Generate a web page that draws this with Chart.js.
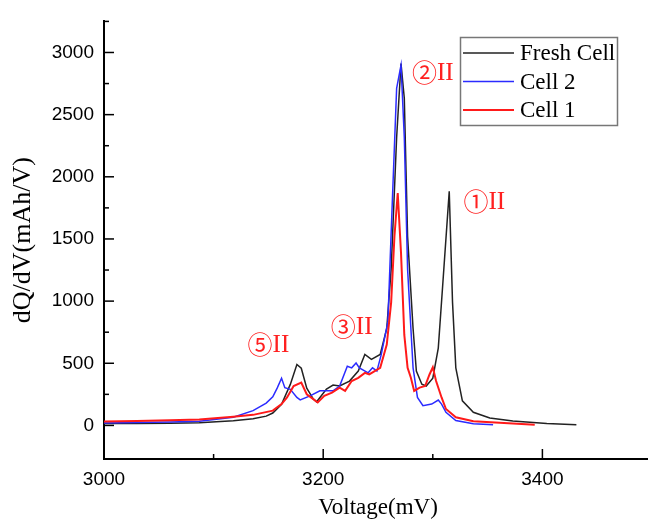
<!DOCTYPE html>
<html>
<head>
<meta charset="utf-8"/>
<script src="https://cdn.jsdelivr.net/npm/chart.js"></script>
<style>
  html, body { margin: 0; padding: 0; background: #fff; overflow: hidden; }
</style>
</head>
<body>
<canvas id="myChart" width="660" height="519"></canvas>
<script>
// ---- data (voltage in mV, dQ/dV in mAh/V) ----
const freshX = [3000, 3030, 3060, 3087, 3118, 3136, 3148, 3154, 3162, 3170, 3176, 3180, 3185, 3191, 3194, 3203, 3209, 3215, 3224, 3232, 3238, 3244, 3252, 3258, 3262, 3267, 3271, 3274, 3277, 3282, 3285, 3290, 3294, 3300, 3305, 3309, 3315, 3318, 3321, 3327, 3337, 3352, 3373, 3404, 3431];
const freshY = [15, 16, 18, 21, 38, 53, 75, 100, 170, 330, 490, 460, 300, 212, 190, 293, 325, 317, 357, 437, 571, 531, 571, 780, 1256, 2316, 2910, 2632, 1520, 780, 437, 331, 317, 380, 622, 1124, 1883, 990, 463, 198, 106, 60, 35, 16, 5];

const cell2X = [3000, 3030, 3060, 3087, 3118, 3136, 3148, 3154, 3158, 3162, 3165, 3170, 3176, 3179, 3188, 3197, 3209, 3215, 3222, 3226, 3230, 3233, 3241, 3245, 3249, 3253, 3259, 3263, 3267, 3271, 3274, 3277, 3282, 3286, 3291, 3299, 3305, 3308, 3312, 3321, 3337, 3355];
const cell2Y = [20, 24, 28, 34, 66, 119, 180, 230, 300, 380, 304, 290, 225, 206, 238, 278, 278, 317, 476, 463, 502, 463, 423, 463, 437, 571, 833, 1786, 2712, 2897, 2316, 1256, 463, 225, 159, 172, 204, 172, 106, 40, 14, 5];

const cell1X = [3000, 3030, 3060, 3087, 3118, 3136, 3154, 3162, 3167, 3173, 3180, 3185, 3191, 3195, 3201, 3208, 3215, 3220, 3226, 3232, 3238, 3242, 3247, 3252, 3258, 3262, 3265, 3268, 3271, 3274, 3277, 3280, 3283, 3288, 3293, 3297, 3300, 3303, 3308, 3312, 3321, 3337, 3373, 3393];
const cell1Y = [32, 36, 42, 48, 70, 85, 119, 172, 225, 317, 344, 251, 212, 185, 238, 264, 304, 278, 357, 383, 423, 410, 437, 463, 650, 990, 1520, 1870, 1388, 728, 463, 384, 278, 304, 317, 410, 468, 357, 225, 132, 66, 34, 16, 5];

const seriesNames = ["Fresh Cell", "Cell 2", "Cell 1"];
const seriesColors = ["#222222", "#2b2bff", "#ff1a1a"];

const xTicks = [3000, 3200, 3400];
const xMinorTicks = [3100, 3300, 3500];
const yTicks = [0, 500, 1000, 1500, 2000, 2500, 3000];
const yMinorTicks = [250, 750, 1250, 1750, 2250, 2750, 3250];

// peak labels: circled number + "II", placed at voltage / dQ/dV
const peakNums = ["\u2460", "\u2461", "\u2462", "\u2464"];
const peakLabelX = [3347, 3300, 3226, 3150];
const peakLabelY = [1801, 2841, 794, 651];

const serif = "'Liberation Serif', 'Times New Roman', serif";
const cjk = "'Noto Sans CJK SC', 'Noto Sans CJK JP', sans-serif";
const sans = "'Liberation Sans', Arial, sans-serif";

function pts(xs, ys) {
  return xs.map((x, i) => ({ x: x, y: ys[i] }));
}

// inward ticks, legend box and peak labels
const extras = {
  id: 'extras',
  afterDraw(chart) {
    const ctx = chart.ctx;
    const xs = chart.scales.x, ys = chart.scales.y;
    const area = chart.chartArea;
    ctx.save();
    ctx.strokeStyle = '#000';
    ctx.lineWidth = 1.5;
    const tick = (vals, len, horiz) => {
      vals.forEach(v => {
        ctx.beginPath();
        if (horiz) {
          const p = ys.getPixelForValue(v);
          ctx.moveTo(area.left, p); ctx.lineTo(area.left + len, p);
        } else {
          const p = xs.getPixelForValue(v);
          ctx.moveTo(p, area.bottom); ctx.lineTo(p, area.bottom - len);
        }
        ctx.stroke();
      });
    };
    tick(yTicks, 10, true);
    tick(yMinorTicks, 5, true);
    tick(xTicks, 10, false);
    tick(xMinorTicks, 5, false);

    // legend
    ctx.strokeStyle = '#777';
    ctx.lineWidth = 1.5;
    ctx.strokeRect(460.5, 37.5, 157, 88);
    ctx.font = "23px " + serif;
    ctx.textBaseline = 'middle';
    ctx.textAlign = 'left';
    chart.data.datasets.forEach((ds, i) => {
      const yy = 53 + i * 28.5;
      ctx.strokeStyle = ds.borderColor;
      ctx.lineWidth = ds.borderWidth;
      ctx.beginPath();
      ctx.moveTo(463, yy); ctx.lineTo(514, yy);
      ctx.stroke();
      ctx.fillStyle = '#000';
      ctx.fillText(ds.label, 520, yy + 1);
    });

    // peak labels
    ctx.fillStyle = '#ff2020';
    peakNums.forEach((n, i) => {
      const cx = xs.getPixelForValue(peakLabelX[i]);
      const cy = ys.getPixelForValue(peakLabelY[i]);
      ctx.font = "25px " + cjk;
      const w1 = ctx.measureText(n).width;
      ctx.font = "25px " + serif;
      const w2 = ctx.measureText("II").width;
      const x0 = cx - (w1 + w2) / 2;
      ctx.font = "25px " + cjk;
      ctx.fillText(n, x0, cy);
      ctx.font = "25px " + serif;
      ctx.fillText("II", x0 + w1, cy + 1);
    });
    ctx.restore();
  }
};

const ctx = document.getElementById('myChart').getContext('2d');

new Chart(ctx, {
  type: 'scatter',
  data: {
    datasets: [
      { label: seriesNames[0], data: pts(freshX, freshY), borderColor: seriesColors[0], borderWidth: 1.5, order: 2 },
      { label: seriesNames[1], data: pts(cell2X, cell2Y), borderColor: seriesColors[1], borderWidth: 1.5, order: 1 },
      { label: seriesNames[2], data: pts(cell1X, cell1Y), borderColor: seriesColors[2], borderWidth: 2, order: 0 }
    ].map(d => Object.assign(d, { showLine: true, pointRadius: 0, tension: 0, fill: false }))
  },
  options: {
    responsive: false,
    animation: false,
    layout: { padding: { top: 16, right: 8, left: 0, bottom: 0 } },
    plugins: {
      legend: { display: false },
      tooltip: { enabled: false }
    },
    scales: {
      x: {
        type: 'linear',
        position: 'bottom',
        min: 3000,
        max: 3500,
        grid: { display: false, drawTicks: false },
        border: { display: true, color: '#000', width: 2 },
        afterBuildTicks: s => { s.ticks = xTicks.map(v => ({ value: v })); },
        afterFit: s => { s.height = 60; },
        ticks: { color: '#000', padding: 9, maxRotation: 0, font: { family: sans, size: 19 },
                 callback: v => String(v) },
        title: { display: true, text: 'Voltage(mV)', color: '#000', padding: { top: 0, bottom: 0 },
                 font: { family: serif, size: 23, lineHeight: 1 } }
      },
      y: {
        type: 'linear',
        min: -270,
        max: 3250,
        grid: { display: false, drawTicks: false },
        border: { display: true, color: '#000', width: 2 },
        afterBuildTicks: s => { s.ticks = yTicks.map(v => ({ value: v })); },
        afterFit: s => { s.width = 104; },
        ticks: { color: '#000', padding: 10, font: { family: sans, size: 19 },
                 callback: v => String(v) },
        title: { display: true, text: 'dQ/dV(mAh/V)', color: '#000', padding: { top: 10, bottom: 0 },
                 font: { family: serif, size: 26, lineHeight: 1 } }
      }
    }
  },
  plugins: [extras]
});
</script>
</body>
</html>
